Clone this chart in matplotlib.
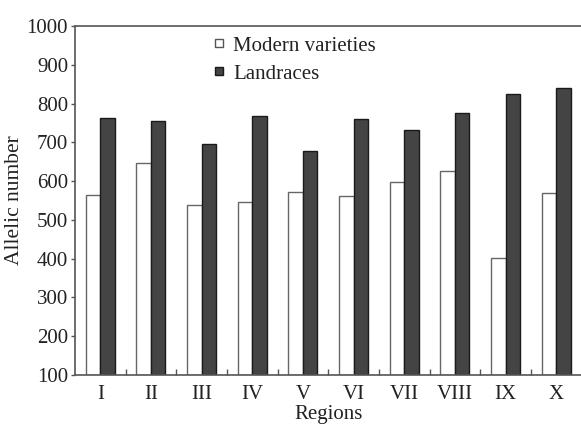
import matplotlib
matplotlib.use('Agg')
import matplotlib.pyplot as plt
from matplotlib.lines import Line2D
import numpy as np

regions = ['I', 'II', 'III', 'IV', 'V', 'VI', 'VII', 'VIII', 'IX', 'X']
modern = [564, 648, 539, 546, 573, 562, 599, 625, 401, 570]
landraces = [762, 756, 695, 769, 678, 759, 732, 775, 824, 841]
yticks = [100, 200, 300, 400, 500, 600, 700, 800, 900, 1000]

plt.rcParams['font.family'] = ['Liberation Serif', 'DejaVu Serif']
text_col = '#222222'
edge_col = '#555555'

fig = plt.figure(figsize=(5.81, 4.26), dpi=100)
ax = fig.add_axes([0.129, 0.1197, 0.872, 0.8192])

x = np.arange(len(regions))
w = 0.286
ax.bar(x - w / 2, np.array(modern) - 100, w, bottom=100, color='white',
       edgecolor='#666666', linewidth=1.0)
ax.bar(x + w / 2, np.array(landraces) - 100, w, bottom=100, color='#444444',
       edgecolor='#1a1a1a', linewidth=1.0)

ax.set_xlim(-0.5, len(regions) - 0.5)
ax.set_ylim(100, 1000)
ax.set_yticks(yticks)
ax.set_xticks(x)
ax.set_xticklabels(regions)
ax.set_xticks(x[:-1] + 0.5, minor=True)
ax.tick_params(axis='x', which='major', length=0, pad=7, labelsize=15, labelcolor=text_col)
ax.tick_params(axis='x', which='minor', direction='in', length=4, width=1, color=edge_col)
ax.tick_params(axis='y', which='major', direction='out', length=3, width=1, color=edge_col,
               labelsize=15, labelcolor=text_col, pad=2)

ax.spines['right'].set_visible(False)
for s in ['left', 'top', 'bottom']:
    ax.spines[s].set_color(edge_col)
    ax.spines[s].set_linewidth(1.2)

ax.set_ylabel('Allelic number', fontsize=15.5, color=text_col, labelpad=2)
ax.set_xlabel('Regions', fontsize=15, color=text_col, labelpad=1)

handles = [
    Line2D([], [], marker='s', linestyle='none', markerfacecolor='white',
           markeredgecolor='#555555', markersize=6, markeredgewidth=1),
    Line2D([], [], marker='s', linestyle='none', markerfacecolor='#444444',
           markeredgecolor='#1a1a1a', markersize=6, markeredgewidth=1),
]
leg = ax.legend(handles, ['Modern varieties', 'Landraces'], loc='upper left',
                bbox_to_anchor=(0.255, 0.995), frameon=False, fontsize=15,
                handlelength=0.6, handletextpad=0.4, labelspacing=0.4,
                borderaxespad=0)
for t in leg.get_texts():
    t.set_color(text_col)

fig.savefig('out.png', dpi=100)
